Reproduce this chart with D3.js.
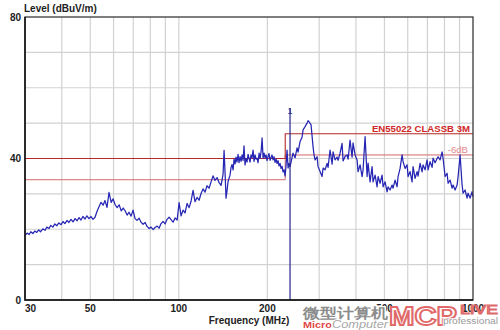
<!DOCTYPE html>
<html>
<head>
<meta charset="utf-8">
<script src="https://cdn.jsdelivr.net/npm/d3@7"></script>
<style>
  body { margin: 0; background: #fff; }
  svg text { font-family: "Liberation Sans", Arial, sans-serif; }
</style>
</head>
<body>
<div id="chart"></div>
<script>
// measured trace (MHz / dBuV/m)
var freqs = [30.0, 30.5, 31.0, 31.4, 31.9, 32.4, 32.9, 33.4, 33.9, 34.5, 35.1, 35.6, 36.2, 36.7, 37.3, 37.9, 38.5, 39.1, 39.8, 40.4,
  41.0, 41.7, 42.3, 43.0, 43.7, 44.4, 45.1, 45.8, 46.5, 47.2, 48.0, 48.7, 49.5, 50.3, 51.1, 51.9, 52.7, 53.6, 54.4, 55.3,
  56.1, 57.0, 57.9, 58.9, 59.8, 60.7, 61.7, 62.7, 63.7, 64.7, 65.6, 66.7, 67.7, 68.8, 69.9, 71.0, 72.1, 73.3, 74.4, 75.6,
  76.8, 78.0, 79.3, 80.5, 81.8, 83.0, 84.4, 85.7, 87.0, 88.4, 89.8, 91.2, 92.7, 94.1, 95.6, 97.1, 98.7, 100.2, 101.8, 103.4,
  105.0, 106.7, 108.4, 110.1, 111.8, 113.5, 115.3, 117.2, 119.0, 120.9, 122.8, 124.7, 126.7, 128.7, 130.7, 132.8, 134.9, 137.0, 139.2, 141.4,
  142.5, 143.6, 144.7, 145.9, 147.0, 149.3, 150.5, 151.7, 152.9, 154.1, 155.3, 156.5, 157.7, 159.0, 160.2, 161.5, 162.8, 164.1, 165.4, 166.6,
  167.9, 169.2, 170.6, 171.9, 173.3, 174.6, 176.0, 177.4, 178.8, 180.2, 181.6, 183.0, 184.5, 185.9, 187.4, 188.9, 190.4, 191.9, 193.4, 194.9,
  196.4, 197.9, 199.5, 201.1, 202.6, 204.2, 205.8, 207.4, 209.1, 210.7, 212.4, 214.1, 215.7, 217.4, 219.1, 220.9, 222.6, 224.4, 226.1, 227.9,
  229.7, 231.5, 233.3, 235.2, 237.0, 238.8, 244.5, 248.4, 252.3, 254.3, 258.3, 262.4, 264.5, 268.6, 272.9, 275.0, 277.2, 281.5, 286.0, 288.2,
  290.5, 295.1, 297.4, 302.1, 306.9, 309.3, 314.1, 319.1, 321.6, 326.7, 331.9, 334.5, 339.7, 345.1, 347.8, 353.3, 358.9, 361.7, 367.4, 373.2,
  376.2, 382.0, 388.1, 391.1, 397.3, 403.6, 406.8, 413.2, 419.7, 423.0, 429.7, 436.5, 439.9, 446.8, 453.9, 457.4, 464.7, 472.0, 475.7, 483.2,
  490.8, 494.7, 502.5, 510.4, 514.4, 522.5, 530.8, 534.9, 543.4, 552.0, 556.3, 565.1, 574.0, 578.5, 587.6, 596.9, 601.6, 611.1, 620.7, 625.6,
  635.5, 645.5, 650.6, 660.9, 671.3, 676.6, 687.3, 698.2, 703.7, 714.7, 726.0, 731.7, 743.2, 754.9, 760.9, 772.9, 785.1, 791.3, 803.8, 816.5,
  822.9, 835.8, 849.0, 855.7, 869.2, 882.9, 889.9, 903.9, 918.1, 925.4, 940.0, 954.8, 962.3, 977.5, 992.9, 1000.0];
var levels = [18.2, 18.9, 18.5, 19.3, 18.8, 19.5, 19.1, 19.8, 19.3, 20.1, 19.7, 20.6, 20.2, 21.1, 20.6, 21.5, 21.0, 21.8, 21.3, 22.2,
  21.6, 22.5, 21.9, 22.8, 22.1, 23.0, 22.4, 23.3, 22.6, 23.6, 22.9, 23.8, 23.0, 23.6, 22.8, 23.4, 25.0, 26.4, 27.6, 26.8,
  28.1, 26.2, 30.4, 27.6, 28.6, 27.0, 26.1, 26.9, 25.2, 26.0, 25.3, 24.0, 24.8, 23.7, 25.4, 23.0, 22.5, 23.1, 22.0, 21.4,
  21.9, 20.8, 20.2, 20.6, 19.9, 20.5, 20.9, 20.3, 21.6, 22.2, 21.5, 22.8, 23.4, 22.7, 22.0, 23.2, 22.6, 27.5, 23.8, 25.4,
  24.6, 27.3, 26.1, 28.0, 31.0, 27.8, 29.0, 28.2, 30.1, 31.4, 30.5, 32.3, 31.6, 33.4, 35.1, 33.8, 34.6, 33.2, 32.4, 35.6,
  42.3, 36.0, 28.8, 31.0, 33.5, 35.3, 37.5, 38.3, 36.8, 39.8, 38.5, 40.4, 39.0, 41.2, 38.8, 40.5, 39.2, 41.0, 39.5, 43.6,
  38.2, 40.0, 39.0, 41.2, 40.0, 39.0, 41.0, 40.2, 42.4, 39.2, 41.0, 39.8, 40.1, 38.8, 41.5, 40.0, 42.0, 45.8, 40.1, 41.5,
  40.2, 41.0, 39.4, 40.6, 41.4, 39.5, 40.3, 41.0, 39.6, 40.5, 38.9, 39.8, 38.6, 39.4, 37.9, 38.6, 37.2, 37.8, 36.2, 36.8,
  35.1, 38.0, 42.4, 37.3, 38.6, 37.7, 41.5, 40.2, 43.0, 41.8, 44.8, 46.0, 48.1, 49.0, 50.0, 50.7, 50.4, 49.5, 43.3, 41.0,
  39.6, 40.5, 37.7, 36.3, 34.9, 37.3, 36.8, 38.6, 37.5, 42.4, 38.4, 41.9, 39.6, 40.4, 39.5, 41.5, 44.3, 39.3, 40.6, 41.0,
  39.8, 45.2, 40.4, 44.4, 41.0, 39.6, 36.3, 38.2, 34.9, 36.8, 46.2, 34.9, 38.7, 33.4, 37.7, 33.4, 35.3, 32.0, 34.9, 33.0,
  35.3, 32.0, 33.4, 30.6, 32.0, 31.1, 32.5, 31.6, 33.9, 32.0, 34.9, 37.2, 41.0, 39.1, 37.2, 38.2, 34.9, 36.3, 33.4, 37.7,
  34.4, 36.3, 35.0, 38.6, 36.2, 38.2, 36.8, 39.6, 36.8, 39.1, 37.5, 40.1, 38.8, 40.0, 40.5, 39.6, 41.9, 40.0, 34.9, 35.8,
  33.0, 33.9, 31.6, 32.5, 31.1, 32.5, 34.9, 41.0, 32.5, 30.2, 31.1, 28.8, 30.2, 28.8, 30.6, 29.2];

// EN55022 class B 3 m limit and the -6 dB line
var limitFreqs = [30, 230, 230, 1000];
var limitLevels = [40, 40, 47, 47];
var marginLevels = [34, 34, 41, 41];

// marker 1
var markerFreq = 238.8;
var markerLevel = 54.3;

var gridFreqs = [40, 50, 60, 70, 80, 90, 100, 200, 300, 400, 500, 600, 700, 800, 900];
var gridLevels = [10, 20, 30, 40, 50, 60, 70];
var xTickLabels = [30, 50, 100, 200, 500, 1000];
var yTickLabels = [0, 40, 80];

var WIDTH = 500, HEIGHT = 330;
var svg = d3.select("#chart").append("svg")
    .attr("width", WIDTH)
    .attr("height", HEIGHT);

var x = d3.scaleLog().domain([30, 1000]).range([25, 473]);
var y = d3.scaleLinear().domain([0, 80]).range([300, 17]);

// grid
svg.append("g").selectAll("line")
    .data(gridFreqs).enter().append("line")
    .attr("x1", function (d) { return x(d); })
    .attr("x2", function (d) { return x(d); })
    .attr("y1", y(80)).attr("y2", y(0))
    .attr("stroke", "#d2d2d2").attr("stroke-width", 1.2);

svg.append("g").selectAll("line")
    .data(gridLevels).enter().append("line")
    .attr("y1", function (d) { return y(d); })
    .attr("y2", function (d) { return y(d); })
    .attr("x1", x(30)).attr("x2", x(1000))
    .attr("stroke", "#d2d2d2").attr("stroke-width", 1.2);

// limit lines
var stepLine = d3.line()
    .x(function (d) { return x(d[0]); })
    .y(function (d) { return y(d[1]); });

svg.append("path")
    .datum(d3.zip(limitFreqs, marginLevels))
    .attr("d", stepLine)
    .attr("fill", "none").attr("stroke", "#d46a6a").attr("stroke-width", 1);

svg.append("path")
    .datum(d3.zip(limitFreqs, limitLevels))
    .attr("d", stepLine)
    .attr("fill", "none").attr("stroke", "#b52a2a").attr("stroke-width", 1.1);

// trace
svg.append("path")
    .datum(d3.zip(freqs, levels))
    .attr("d", stepLine)
    .attr("fill", "none")
    .attr("stroke", "#2626b4")
    .attr("stroke-width", 1.25)
    .attr("stroke-linejoin", "round");

// marker
svg.append("line")
    .attr("x1", x(markerFreq)).attr("x2", x(markerFreq))
    .attr("y1", y(markerLevel)).attr("y2", y(0))
    .attr("stroke", "#26268c").attr("stroke-width", 1.2);
svg.append("text")
    .attr("x", x(markerFreq)).attr("y", y(markerLevel) + 6)
    .attr("text-anchor", "middle")
    .attr("font-size", 9).attr("fill", "#26268c")
    .text("1");

// frame
svg.append("rect")
    .attr("x", x(30)).attr("y", y(80))
    .attr("width", x(1000) - x(30)).attr("height", y(0) - y(80))
    .attr("fill", "none").attr("stroke", "#3a3a3a").attr("stroke-width", 1.3);
svg.append("path")
    .attr("d", "M" + x(30) + "," + y(80) + "V" + y(0) + "H" + x(1000))
    .attr("fill", "none").attr("stroke", "#111").attr("stroke-width", 1.5);

// limit labels
svg.append("text")
    .attr("x", 470).attr("y", 131.5)
    .attr("text-anchor", "end")
    .attr("font-size", 9.6).attr("font-weight", "bold").attr("fill", "#cf2626")
    .text("EN55022 CLASSB 3M");
svg.append("text")
    .attr("x", 468).attr("y", 152.5)
    .attr("text-anchor", "end")
    .attr("font-size", 9.6).attr("fill", "#e28a8a")
    .text("-6dB");

// axis labels
svg.append("g").selectAll("text")
    .data(yTickLabels).enter().append("text")
    .attr("x", 21).attr("y", function (d) { return y(d) + 3.5; })
    .attr("text-anchor", "end")
    .attr("font-size", 10).attr("font-weight", "bold").attr("fill", "#222")
    .text(function (d) { return d; });

svg.append("g").selectAll("text")
    .data(xTickLabels).enter().append("text")
    .attr("x", function (d) { return x(d); })
    .attr("y", 312)
    .attr("text-anchor", function (d) { return d === 30 ? "start" : "middle"; })
    .attr("font-size", 10).attr("font-weight", "bold").attr("fill", "#222")
    .text(function (d) { return d; });

svg.append("text")
    .attr("x", 24).attr("y", 12)
    .attr("font-size", 10).attr("font-weight", "bold").attr("fill", "#222")
    .text("Level (dBuV/m)");

svg.append("text")
    .attr("x", 249).attr("y", 324)
    .attr("text-anchor", "middle")
    .attr("font-size", 10).attr("font-weight", "bold").attr("fill", "#222")
    .text("Frequency (MHz)");

// watermark
var wm = svg.append("g");
wm.append("text")
    .attr("x", 303).attr("y", 318)
    .attr("font-family", "Noto Sans CJK SC").attr("font-size", 14).attr("font-weight", "bold")
    .attr("fill", "#8c8c8c").attr("stroke", "#fff").attr("stroke-width", 2.5).attr("paint-order", "stroke")
    .attr("textLength", 85).attr("lengthAdjust", "spacingAndGlyphs")
    .text("微型计算机");
var mc = wm.append("text")
    .attr("x", 303).attr("y", 327.5)
    .attr("stroke", "#fff").attr("stroke-width", 2).attr("paint-order", "stroke")
    .attr("textLength", 85).attr("lengthAdjust", "spacingAndGlyphs");
mc.append("tspan").attr("font-size", 8.5).attr("font-weight", "bold").attr("fill", "#e04848").text("Micro");
mc.append("tspan").attr("font-size", 10).attr("font-style", "italic").attr("fill", "#a8a8a8").text("Computer");
wm.append("text")
    .attr("x", 389).attr("y", 325)
    .attr("font-family", "DejaVu Sans").attr("font-size", 26).attr("font-weight", "bold")
    .attr("fill", "#fff").attr("stroke", "#e06a6a").attr("stroke-width", 1.8)
    .attr("textLength", 68).attr("lengthAdjust", "spacingAndGlyphs")
    .text("MCP");
wm.append("text")
    .attr("x", 460).attr("y", 314)
    .attr("font-family", "DejaVu Sans").attr("font-size", 12)
    .attr("fill", "#fff").attr("stroke", "#e06a6a").attr("stroke-width", 1)
    .attr("textLength", 38).attr("lengthAdjust", "spacingAndGlyphs")
    .text("LIVE");
wm.append("text")
    .attr("x", 443).attr("y", 324)
    .attr("font-size", 8.5).attr("fill", "#9a9a9a")
    .attr("stroke", "#fff").attr("stroke-width", 1.5).attr("paint-order", "stroke")
    .attr("textLength", 55).attr("lengthAdjust", "spacingAndGlyphs")
    .text("professional");
</script>
</body>
</html>
